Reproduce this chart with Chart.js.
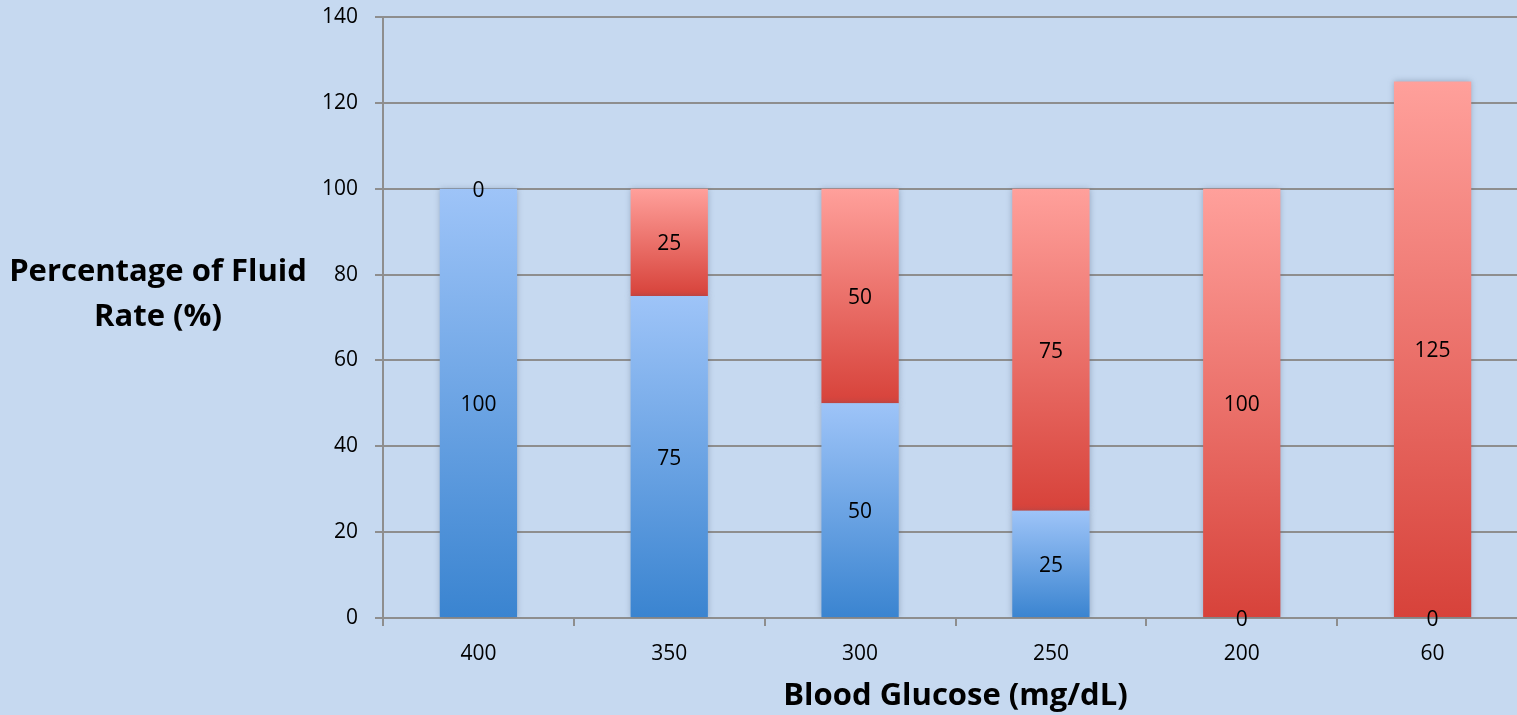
<!DOCTYPE html>
<html>
<head>
<meta charset="utf-8">
<script src="https://cdn.jsdelivr.net/npm/chart.js@4"></script>
<style>
  html, body { margin: 0; padding: 0; background: #c6d9f0; overflow: hidden; }
  #wrap { width: 1530px; height: 715px; }
</style>
</head>
<body>
<div id="wrap"><canvas id="grafico" width="1530" height="715"></canvas></div>
<script>
// categorias e valores
const glicemia = ['400', '350', '300', '250', '200', '60'];
const serieAzul = [100, 75, 50, 25, 0, 0];
const serieVermelha = [0, 25, 50, 75, 100, 125];
const yMin = 0, yMax = 140, yPasso = 20;
const tituloY = ['Percentage of Fluid', 'Rate (%)'];
const tituloX = 'Blood Glucose (mg/dL)';

const FONTE = "'Open Sans', sans-serif";

// gradiente por segmento (claro em cima, escuro em baixo)
function gradiente(claro, escuro, base) {
    return function (c) {
        const chart = c.chart;
        if (!chart.chartArea || c.type !== 'data') return escuro;
        const y = chart.scales.y;
        const b = base ? base[c.dataIndex] : 0;
        const topo = y.getPixelForValue(b + c.raw);
        const fundo = y.getPixelForValue(b);
        if (fundo - topo < 1) return escuro;
        const g = chart.ctx.createLinearGradient(0, topo, 0, fundo);
        g.addColorStop(0, claro);
        g.addColorStop(1, escuro);
        return g;
    };
}

const sombra = {
    id: 'sombra',
    beforeDatasetDraw(chart) {
        const ctx = chart.ctx;
        ctx.save();
        ctx.shadowColor = 'rgba(60,80,110,0.35)';
        ctx.shadowBlur = 6;
    },
    afterDatasetDraw(chart) { chart.ctx.restore(); }
};

const rotulos = {
    id: 'rotulos',
    afterDatasetsDraw(chart) {
        const ctx = chart.ctx;
        ctx.save();
        ctx.font = '21px ' + FONTE;
        ctx.fillStyle = '#000';
        ctx.textAlign = 'center';
        ctx.textBaseline = 'middle';
        chart.data.datasets.forEach((ds, i) => {
            chart.getDatasetMeta(i).data.forEach((el, j) => {
                const cy = (el.y + el.base) / 2;
                ctx.fillText(String(ds.data[j]), el.x, cy + 2);
            });
        });
        // titulo do eixo y, horizontal
        ctx.font = 'bold 31px ' + FONTE;
        ctx.fillText(tituloY[0], 158, 272);
        ctx.fillText(tituloY[1], 158, 317);
        ctx.restore();
    }
};

new Chart(document.getElementById('grafico'), {
    type: 'bar',
    data: {
        labels: glicemia,
        datasets: [
            {
                label: 'Azul',
                data: serieAzul,
                backgroundColor: gradiente('#9ec4f8', '#3a84d0', null),
                barPercentage: 0.405,
                categoryPercentage: 1
            },
            {
                label: 'Vermelho',
                data: serieVermelha,
                backgroundColor: gradiente('#ffa09b', '#d7423a', serieAzul),
                barPercentage: 0.405,
                categoryPercentage: 1
            }
        ]
    },
    options: {
        responsive: false,
        devicePixelRatio: 1,
        animation: false,
        layout: { padding: { top: 17, right: 2, left: 0, bottom: 0 } },
        plugins: { legend: { display: false }, tooltip: { enabled: false } },
        scales: {
            x: {
                stacked: true,
                grid: { offset: true, drawOnChartArea: false, drawTicks: true, tickLength: 8, color: '#8e8e8e', lineWidth: 2 },
                border: { display: false },
                ticks: { color: '#000', font: { family: FONTE, size: 21 }, padding: 15 },
                title: { display: true, text: tituloX, color: '#000', font: { family: FONTE, size: 31, weight: 'bold' }, padding: { top: 0, bottom: 0 } },
                afterFit(s) { s.height = 97; }
            },
            y: {
                stacked: true,
                min: yMin,
                max: yMax,
                ticks: { stepSize: yPasso, color: '#000', font: { family: FONTE, size: 21 }, padding: 17 },
                grid: { color: '#8e8e8e', lineWidth: 2, tickLength: 8 },
                border: { display: true, color: '#8e8e8e', width: 2 },
                afterFit(s) { s.width = 383; s.paddingTop = 0; s.paddingBottom = 0; }
            }
        }
    },
    plugins: [sombra, rotulos]
});
</script>
</body>
</html>
